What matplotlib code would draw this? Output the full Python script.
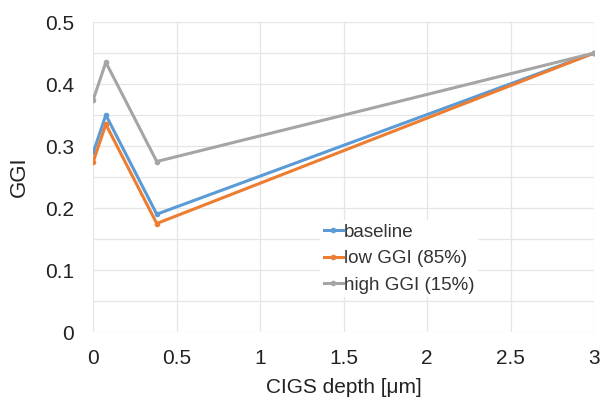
import matplotlib
matplotlib.use("Agg")
import matplotlib.pyplot as plt
import numpy as np

depth = [0.0, 0.075, 0.38, 3.0]
baseline = [0.29, 0.35, 0.19, 0.45]
low_ggi = [0.275, 0.335, 0.175, 0.45]
high_ggi = [0.375, 0.435, 0.275, 0.45]
labels = ["baseline", "low GGI (85%)", "high GGI (15%)"]
colors = ["#5B9BD5", "#ED7D31", "#A5A5A5"]
xticks = [0, 0.5, 1, 1.5, 2, 2.5, 3]
xticklabels = ["0", "0.5", "1", "1.5", "2", "2.5", "3"]
yticks = [0, 0.1, 0.2, 0.3, 0.4, 0.5]
yticklabels = ["0", "0.1", "0.2", "0.3", "0.4", "0.5"]

plt.rcParams['font.family'] = ['Liberation Sans', 'DejaVu Sans']

fig = plt.figure(figsize=(6.02, 4.0), dpi=100)
ax = fig.add_axes([0.155, 0.17, 0.832, 0.775])

for ys, lab, c in zip([baseline, low_ggi, high_ggi], labels, colors):
    ax.plot(depth, ys, color=c, lw=2.2, marker='o', ms=3, label=lab)

ax.set_xlim(0, 3)
ax.set_ylim(0, 0.5)
ax.set_xticks(xticks)
ax.set_xticklabels(xticklabels)
ax.set_yticks(yticks)
ax.set_yticklabels(yticklabels)
ax.set_yticks(np.arange(0.05, 0.5, 0.1), minor=True)
ax.grid(True, which='both', color='#E6E6E6', lw=0.9)
ax.set_axisbelow(True)
for s in ax.spines.values():
    s.set_visible(False)
ax.tick_params(which='both', length=0, labelsize=15, colors='#222222')
ax.tick_params(axis='x', pad=12.5)
ax.tick_params(axis='y', pad=14)
ax.set_xlabel("CIGS depth [μm]", fontsize=15, color='#222222', labelpad=7)
ax.set_ylabel("GGI", fontsize=16, color='#222222', labelpad=11)

leg = ax.legend(loc='upper left', bbox_to_anchor=(0.434, 0.392), frameon=True,
                fontsize=13.5, handlelength=1.0, handletextpad=0.08,
                labelspacing=0.5, borderpad=0.2)
leg.get_frame().set_facecolor('white')
leg.get_frame().set_edgecolor('none')
leg.get_frame().set_alpha(1)
for t in leg.get_texts():
    t.set_color('#333333')

fig.savefig("out.png", dpi=100, facecolor='white')
